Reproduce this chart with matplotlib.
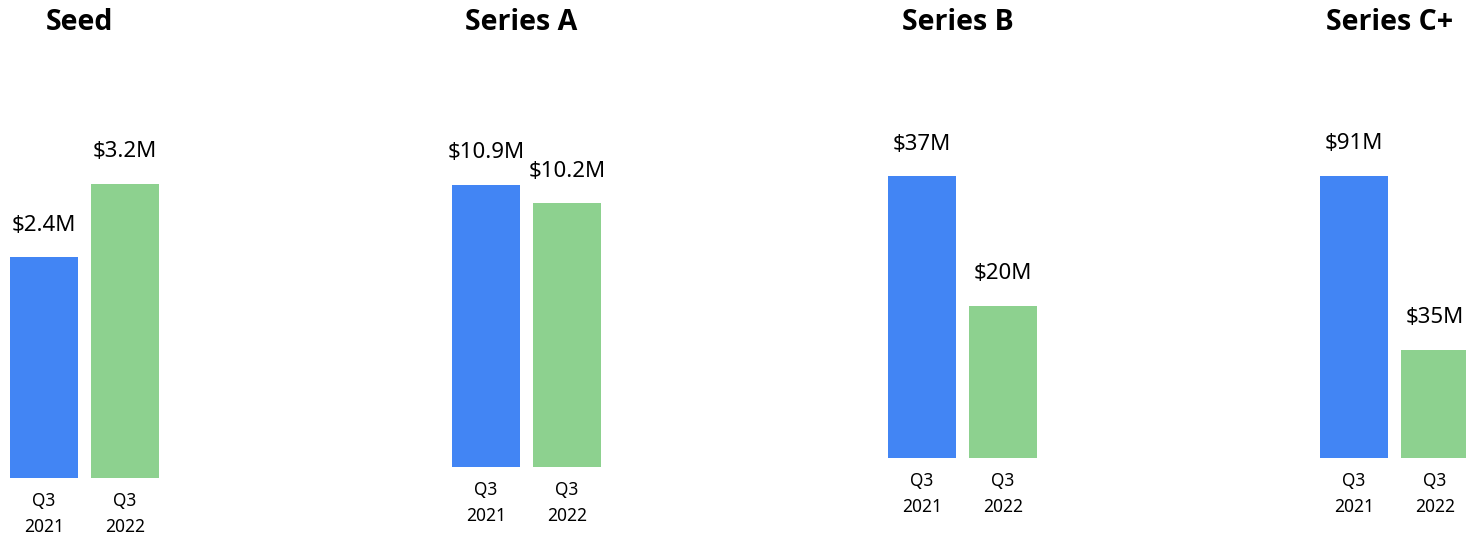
import matplotlib.pyplot as plt

# data
stages = ["Seed", "Series A", "Series B", "Series C+"]
periods = ["Q3\n2021", "Q3\n2022"]
q3_2021 = [2.4, 10.9, 37, 91]
q3_2022 = [3.2, 10.2, 20, 35]
value_labels_2021 = ["$2.4M", "$10.9M", "$37M", "$91M"]
value_labels_2022 = ["$3.2M", "$10.2M", "$20M", "$35M"]

# layout (pixels)
W, H = 1466, 535
panel_left = [10, 452, 888, 1320]
panel_base = [478, 467, 458, 458]
panel_top = 100
panel_ymax = [4.11, 14.18, 46.97, 115.5]
panel_width = 149

colors = ["#4285F4", "#8DD18F"]
plt.rcParams["font.family"] = ["Noto Sans", "DejaVu Sans"]

fig = plt.figure(figsize=(W / 100, H / 100), dpi=100)

for i, stage in enumerate(stages):
    left = panel_left[i] / W
    bottom = (H - panel_base[i]) / H
    height = (panel_base[i] - panel_top) / H
    ax = fig.add_axes([left, bottom, panel_width / W, height])
    vals = [q3_2021[i], q3_2022[i]]
    labels = [value_labels_2021[i], value_labels_2022[i]]
    bars = ax.bar([0, 1], vals, width=0.84, color=colors)
    for bar, lab in zip(bars, labels):
        ax.annotate(lab, (bar.get_x() + bar.get_width() / 2, bar.get_height()),
                    xytext=(0, 23), textcoords="offset points",
                    ha="center", va="center", fontsize=16)
    ax.set_xlim(-0.42, 1.42)
    ax.set_ylim(0, panel_ymax[i])
    ax.set_xticks([0, 1])
    ax.set_xticklabels(periods, fontsize=12.5, linespacing=1.55)
    ax.tick_params(axis="x", length=0, pad=10)
    ax.set_yticks([])
    for s in ax.spines.values():
        s.set_visible(False)
    ax.patch.set_alpha(0)
    cx = (panel_left[i] + panel_width / 2 - 5) / W
    fig.text(cx, 1 - 23 / H, stage, ha="center", va="center",
             fontsize=20.5, fontweight="bold", family=["Open Sans", "DejaVu Sans"])

fig.savefig("out.png", dpi=100)
